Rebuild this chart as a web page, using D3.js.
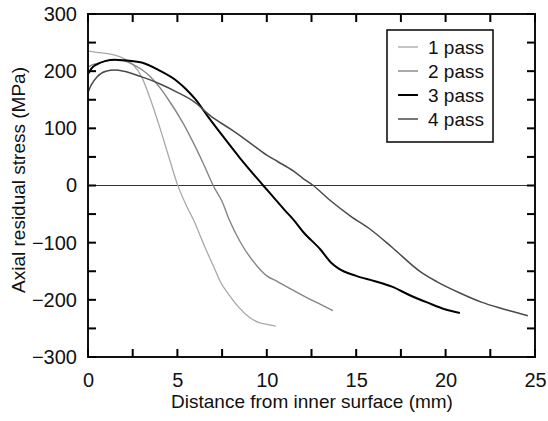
<!DOCTYPE html>
<html>
<head>
<meta charset="utf-8">
<script src="https://cdn.jsdelivr.net/npm/d3@7"></script>
<style>
  body { margin: 0; background: #fff; }
  svg text { font-family: "Liberation Sans", Arial, sans-serif; fill: #111; }
</style>
</head>
<body>
<div id="chart"></div>
<script>
// values: [distance mm, stress MPa]
var pass1 = [[0, 235], [0.5, 233], [1, 231], [1.5, 228], [2, 222], [2.5, 212], [3, 190], [3.5, 150],
    [4, 103], [4.5, 52], [5, 2], [5.5, -35], [5.9, -60], [6.5, -105], [7, -140], [7.4, -168],
    [8, -196], [8.4, -212], [9, -230], [9.5, -239], [10, -243], [10.5, -246]];
var pass2 = [[0, 207], [0.3, 212], [0.5, 213], [1, 218], [1.5, 220], [2, 218], [2.5, 212], [3, 203],
    [3.5, 190], [4, 172], [4.5, 150], [5.3, 110], [6, 68], [6.5, 35], [7, 0], [7.5, -28], [7.9, -60],
    [8.5, -98], [9.3, -135], [10, -158], [10.6, -168], [11, -175], [12, -192], [13, -208], [13.7, -219]];
var pass3 = [[0, 195], [0.2, 205], [0.5, 212], [1, 218], [1.5, 220], [2, 219], [3, 215], [4, 201],
    [5, 182], [5.5, 168], [6, 151], [6.7, 121], [7.5, 88], [8.5, 48], [9.8, 0], [10.5, -25], [11, -43],
    [11.5, -60], [12, -80], [13, -112], [13.6, -135], [14, -145], [15, -158], [16, -167], [17, -177],
    [18, -192], [19, -205], [20, -217], [20.8, -223]];
var pass4 = [[0, 163], [0.2, 177], [0.5, 190], [1, 200], [1.5, 202], [2, 200], [3, 190], [4, 178],
    [5, 163], [6, 145], [6.8, 123], [8, 98], [9, 76], [10, 53], [10.6, 42], [11.5, 25], [12, 13],
    [12.6, 0], [13.5, -25], [14.7, -54], [15.8, -77], [17, -108], [18.6, -151], [19.5, -168],
    [20.8, -188], [22, -204], [23, -214], [23.8, -221], [24.6, -228]];

var seriesNames = ["1 pass", "2 pass", "3 pass", "4 pass"];
var seriesData = [pass1, pass2, pass3, pass4];
var seriesColors = ["#a8a8a8", "#858585", "#000000", "#4a4a4a"];
var seriesWidths = [1.3, 1.4, 2, 1.5];

var xTicks = [0, 5, 10, 15, 20, 25];
var yTicks = [-300, -200, -100, 0, 100, 200, 300];
var xMinor = [0, 2.5, 5, 7.5, 10, 12.5, 15, 17.5, 20, 22.5, 25];
var yMinor = [-300, -250, -200, -150, -100, -50, 0, 50, 100, 150, 200, 250, 300];

var width = 548, height = 421;

var svg = d3.select("#chart")
    .append("svg")
    .attr("width", width)
    .attr("height", height);

var x = d3.scaleLinear().domain([0, 25]).range([88, 535]);
var y = d3.scaleLinear().domain([-300, 300]).range([357, 14]);

// zero line
svg.append("line")
    .attr("x1", x(0)).attr("x2", x(25))
    .attr("y1", y(0)).attr("y2", y(0))
    .attr("stroke", "#333").attr("stroke-width", 1);

var line = d3.line()
    .x(function(d) { return x(d[0]); })
    .y(function(d) { return y(d[1]); })
    .curve(d3.curveMonotoneX);

svg.selectAll(".series")
    .data(seriesData)
    .enter()
    .append("path")
    .attr("class", "series")
    .attr("fill", "none")
    .attr("stroke", function(d, i) { return seriesColors[i]; })
    .attr("stroke-width", function(d, i) { return seriesWidths[i]; })
    .attr("d", line);

// tick labels
var xLab = svg.append("g")
    .attr("transform", "translate(0," + y(-300) + ")")
    .call(d3.axisBottom(x).tickValues(xTicks).tickSize(0).tickPadding(16));
xLab.select(".domain").remove();
xLab.selectAll("text").attr("font-size", "20px").attr("font-family", "Liberation Sans, Arial, sans-serif").attr("fill", "#111");

var yLab = svg.append("g")
    .attr("transform", "translate(" + x(0) + ",0)")
    .call(d3.axisLeft(y).tickValues(yTicks).tickSize(0).tickPadding(11));
yLab.select(".domain").remove();
yLab.selectAll("text").attr("font-size", "20px").attr("font-family", "Liberation Sans, Arial, sans-serif").attr("fill", "#111");

// frame
svg.append("rect")
    .attr("x", x(0)).attr("y", y(300))
    .attr("width", x(25) - x(0)).attr("height", y(-300) - y(300))
    .attr("fill", "none").attr("stroke", "#111").attr("stroke-width", 2);

// inward ticks on all four sides, as small filled rects
var tickLen = 8, tickW = 2;
var marks = svg.append("g").attr("class", "marks");
marks.selectAll(".xb")
    .data(xMinor)
    .enter()
    .append("rect")
    .attr("class", "xb")
    .attr("x", function(d) { return x(d) - tickW / 2; })
    .attr("y", y(-300) - tickLen)
    .attr("width", tickW).attr("height", tickLen)
    .attr("fill", "#000");
marks.selectAll(".xt")
    .data(xMinor)
    .enter()
    .append("rect")
    .attr("class", "xt")
    .attr("x", function(d) { return x(d) - tickW / 2; })
    .attr("y", y(300))
    .attr("width", tickW).attr("height", tickLen)
    .attr("fill", "#000");
marks.selectAll(".yl")
    .data(yMinor)
    .enter()
    .append("rect")
    .attr("class", "yl")
    .attr("x", x(0))
    .attr("y", function(d) { return y(d) - tickW / 2; })
    .attr("width", tickLen).attr("height", tickW)
    .attr("fill", "#000");
marks.selectAll(".yr")
    .data(yMinor)
    .enter()
    .append("rect")
    .attr("class", "yr")
    .attr("x", x(25) - tickLen)
    .attr("y", function(d) { return y(d) - tickW / 2; })
    .attr("width", tickLen).attr("height", tickW)
    .attr("fill", "#000");

// legend
var legend = svg.append("g").attr("transform", "translate(387,30)");
legend.append("rect")
    .attr("width", 106).attr("height", 112)
    .attr("fill", "#fff").attr("stroke", "#111").attr("stroke-width", 1.6);
var item = legend.selectAll(".item")
    .data(seriesNames)
    .enter()
    .append("g")
    .attr("class", "item")
    .attr("transform", function(d, i) { return "translate(0," + (17 + i * 24) + ")"; });
item.append("line")
    .attr("x1", 11).attr("x2", 31)
    .attr("stroke", function(d, i) { return seriesColors[i]; })
    .attr("stroke-width", function(d, i) { return seriesWidths[i]; });
item.append("text")
    .attr("x", 41).attr("dy", "0.35em")
    .attr("font-size", "19px")
    .text(function(d) { return d; });

// axis titles
svg.append("text")
    .attr("x", 312).attr("y", 408)
    .attr("text-anchor", "middle")
    .attr("font-size", "19px")
    .text("Distance from inner surface (mm)");
svg.append("text")
    .attr("transform", "translate(25,180) rotate(-90)")
    .attr("text-anchor", "middle")
    .attr("font-size", "19px")
    .text("Axial residual stress (MPa)");
</script>
</body>
</html>
